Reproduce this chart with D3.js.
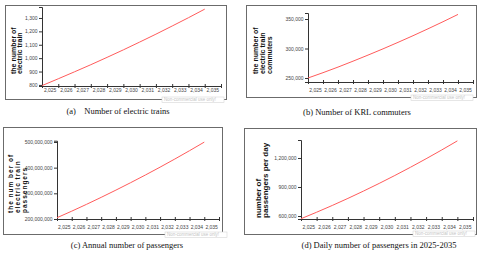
<!DOCTYPE html>
<html>
<head>
<meta charset="utf-8">
<script src="https://cdn.jsdelivr.net/npm/d3@7"></script>
<style>
  body { margin: 0; background: #fff; }
  svg { display: block; }
</style>
</head>
<body>
<div id="chart"></div>
<script>
// simulation output 2025-2035
var years = [2025, 2026, 2027, 2028, 2029, 2030, 2031, 2032, 2033, 2034, 2035];
var tickYears = [2025, 2026, 2027, 2028, 2029, 2030, 2031, 2032, 2033, 2034, 2035, 2036];
var trains = [795, 846, 898, 951, 1006, 1062, 1120, 1179, 1240, 1302, 1366];
var commuters = [250000, 259000, 268500, 278500, 288800, 299400, 310400, 321700, 333400, 345400, 357800];
var annualPassengers = [205000000, 230500000, 257000000, 284300000, 312500000, 341500000, 371300000, 402000000, 433600000, 466100000, 499500000];
var dailyPassengers = [572000, 639000, 709000, 782000, 858000, 937000, 1019000, 1104000, 1192000, 1283000, 1377000];

var trainTicks = [800, 900, 1000, 1100, 1200, 1300];
var commuterTicks = [250000, 300000, 350000];
var annualTicks = [200000000, 300000000, 400000000, 500000000];
var dailyTicks = [600000, 900000, 1200000];

var panels = [
  { values: trains, yTicks: trainTicks, yDomain: [792, 1382],
    title: ["the number of", "electric train"], caption: "(a)    Number of electric trains",
    box: [5, 5, 221, 94], xr: [42, 221], yr: [86, 7], labelY: 91.5,
    tx: 15.5, tgap: 6.5, tbase: 74, tsize: 7, tspace: 0, cx: 118, cy: 114, mark: [162, 97] },
  { values: commuters, yTicks: commuterTicks, yDomain: [243200, 360200],
    title: ["the number of", "electric train", "commuters"], caption: "(b) Number of KRL commuters",
    box: [246, 5, 230, 92], xr: [308, 473], yr: [82, 13], labelY: 92,
    tx: 257.5, tgap: 7, tbase: 74, tsize: 7, tspace: 0, cx: 357, cy: 115, mark: [411, 95] },
  { values: annualPassengers, yTicks: annualTicks, yDomain: [200000000, 505000000],
    title: ["the num ber of", "electric train", "passengers"], caption: "(c) Annual number of passengers",
    box: [3, 127, 219, 107], xr: [57, 219], yr: [219, 140.7], labelY: 229,
    tx: 12.5, tgap: 7, tbase: 213, tsize: 6.5, tspace: 1, cx: 127, cy: 248, mark: [165, 232] },
  { values: dailyPassengers, yTicks: dailyTicks, yDomain: [569000, 1386000],
    title: ["number of", "passengers per day"], caption: "(d) Daily number of passengers in 2025-2035",
    box: [244, 128, 232, 106], xr: [301, 473], yr: [219, 140], labelY: 229,
    tx: 261, tgap: 7, tbase: 218, tsize: 8, tspace: 0, cx: 379, cy: 248, mark: [413, 231] }
];

var svg = d3.select("#chart").append("svg")
  .attr("width", 480)
  .attr("height", 257);

svg.append("rect").attr("width", 480).attr("height", 257).attr("fill", "#fff");

var fmt = d3.format(",");

panels.forEach(function(p) {
  var g = svg.append("g");

  g.append("rect")
    .attr("x", p.box[0] + 0.5).attr("y", p.box[1] + 0.5)
    .attr("width", p.box[2]).attr("height", p.box[3])
    .attr("fill", "none")
    .attr("stroke", "#6b6b6b")
    .attr("stroke-width", 1);

  var x = d3.scaleLinear().domain([2025, 2036]).range(p.xr);
  var y = d3.scaleLinear().domain(p.yDomain).range(p.yr);

  // x axis: ticks cross the line, labels sit between ticks
  var xAxis = g.append("g")
    .attr("transform", "translate(0," + p.yr[0] + ")")
    .call(d3.axisBottom(x).tickValues(tickYears).tickFormat("").tickSizeOuter(0).tickSize(2));
  xAxis.selectAll(".tick line").attr("y1", -2).attr("stroke", "#333");
  xAxis.select(".domain").attr("stroke", "#333");

  g.append("g").selectAll("text")
    .data(years)
    .enter().append("text")
    .attr("x", function(d) { return x(d + 0.5); })
    .attr("y", p.labelY)
    .attr("text-anchor", "middle")
    .style("font-family", "Liberation Sans, Arial, sans-serif")
    .style("font-size", "5px")
    .style("fill", "#444")
    .text(function(d) { return fmt(d); });

  var yAxis = g.append("g")
    .attr("transform", "translate(" + p.xr[0] + ",0)")
    .call(d3.axisLeft(y).tickValues(p.yTicks).tickFormat(fmt).tickSizeOuter(0).tickSize(3).tickPadding(1.5));
  yAxis.selectAll(".tick line").attr("x1", 1).attr("stroke", "#333");
  yAxis.select(".domain").attr("stroke", "#333");
  yAxis.selectAll("text")
    .style("font-family", "Liberation Sans, Arial, sans-serif")
    .style("font-size", "5px")
    .style("fill", "#444");

  var line = d3.line()
    .x(function(d, i) { return x(years[i]); })
    .y(function(d) { return y(d); })
    .curve(d3.curveMonotoneX);

  g.append("path")
    .datum(p.values)
    .attr("d", line)
    .attr("fill", "none")
    .attr("stroke", "#ff5b5b")
    .attr("stroke-width", 1);

  // rotated axis title, lines start at the bottom
  g.append("g").selectAll("text")
    .data(p.title)
    .enter().append("text")
    .attr("transform", function(d, i) {
      return "translate(" + (p.tx + i * p.tgap) + "," + p.tbase + ") rotate(-90)";
    })
    .style("font-family", "Liberation Sans, Arial, sans-serif")
    .style("font-weight", "bold")
    .style("font-size", p.tsize + "px")
    .style("letter-spacing", p.tspace + "px")
    .style("white-space", "pre")
    .style("fill", "#111")
    .text(function(d) { return d; });

  // watermark of the modelling tool
  var mark = g.append("g").attr("transform", "translate(" + p.mark[0] + "," + p.mark[1] + ")");
  mark.append("rect")
    .attr("width", 62).attr("height", 5.5)
    .attr("fill", "#fff")
    .attr("stroke", "#d6d6d6")
    .attr("stroke-width", 0.6);
  mark.append("text")
    .attr("x", 2).attr("y", 4.3)
    .style("font-family", "Liberation Sans, Arial, sans-serif")
    .style("font-size", "4.5px")
    .style("fill", "#c4c4c4")
    .text("Non-commercial use only!");

  svg.append("text")
    .attr("x", p.cx)
    .attr("y", p.cy)
    .attr("text-anchor", "middle")
    .style("font-family", "Liberation Serif, Times New Roman, serif")
    .style("font-size", "8.5px")
    .style("white-space", "pre")
    .style("fill", "#111")
    .text(p.caption);
});
</script>
</body>
</html>
